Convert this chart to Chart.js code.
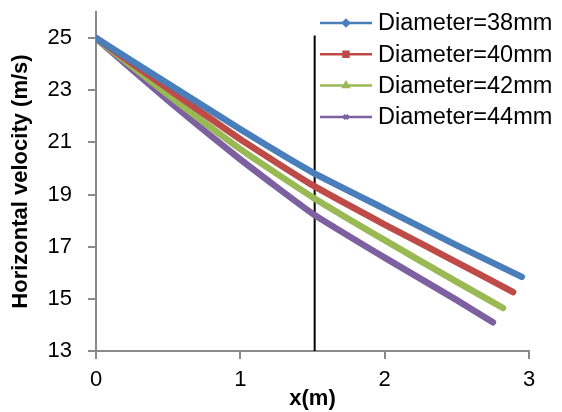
<!DOCTYPE html>
<html>
<head>
<meta charset="utf-8">
<script src="https://cdn.jsdelivr.net/npm/chart.js@4"></script>
<style>
  body { margin: 0; background: #fff; }
  #wrap { width: 562px; height: 412px; }
</style>
</head>
<body>
<div id="wrap"><canvas id="myChart"></canvas></div>
<script>
// values
const labels = ['Diameter=38mm', 'Diameter=40mm', 'Diameter=42mm', 'Diameter=44mm'];
const x_38 = [0, 0.5, 1, 1.5, 2, 2.5, 2.95];
const v_38 = [25, 23.25, 21.5, 19.85, 18.45, 17.05, 15.84];
const x_40 = [0, 0.5, 1, 1.5, 2, 2.5, 2.89];
const v_40 = [25, 23.05, 21.12, 19.36, 17.85, 16.4, 15.26];
const x_42 = [0, 0.5, 1, 1.5, 2, 2.5, 2.82];
const v_42 = [25, 22.82, 20.74, 18.9, 17.25, 15.65, 14.65];
const x_44 = [0, 0.5, 1, 1.5, 2, 2.5, 2.75];
const v_44 = [25, 22.6, 20.35, 18.27, 16.58, 14.95, 14.1];
const marker_x = [1.515, 1.515];
const marker_y = [13, 25.1];
const y_ticks = [13, 15, 17, 19, 21, 23, 25];
const x_ticks = [0, 1, 2, 3];

const colors = ['#4a7ebb', '#be4b48', '#98b954', '#7d60a0'];
const point_styles = ['rectRot', 'rect', 'triangle', 'crossRot'];

const toPoints = (xs, ys) => xs.map((x, i) => ({ x: x, y: ys[i] }));

const series = [toPoints(x_38, v_38), toPoints(x_40, v_40), toPoints(x_42, v_42), toPoints(x_44, v_44)];

const datasets = series.map(function(pts, i) {
    return {
        label: labels[i],
        data: pts,
        showLine: true,
        borderColor: colors[i],
        backgroundColor: colors[i],
        borderWidth: 6.5,
        pointRadius: 0,
        tension: 0.15,
        borderCapStyle: 'round'
    };
});
datasets.push({
    label: 'marker',
    data: toPoints(marker_x, marker_y),
    showLine: true,
    borderColor: '#000',
    borderWidth: 2,
    pointRadius: 0
});

// legend drawn over the plot area, like the original
const overlayLegend = {
    id: 'overlayLegend',
    afterDraw(chart) {
        const ctx = chart.ctx;
        ctx.save();
        labels.forEach(function(label, i) {
            const y = 23 + i * 31.3;
            ctx.strokeStyle = colors[i];
            ctx.lineWidth = 2.5;
            ctx.beginPath();
            ctx.moveTo(320, y);
            ctx.lineTo(372, y);
            ctx.stroke();
            ctx.fillStyle = colors[i];
            ctx.strokeStyle = colors[i];
            Chart.helpers.drawPoint(ctx, {
                pointStyle: point_styles[i],
                radius: i == 1 ? 3.5 : 3,
                rotation: 0,
                borderWidth: 1.5
            }, 346, y);
            ctx.fillStyle = '#000';
            ctx.font = '23.5px "Liberation Sans"';
            ctx.textBaseline = 'middle';
            ctx.textAlign = 'left';
            ctx.fillText(label, 378, y + 1);
        });
        ctx.restore();
    }
};

const axisGray = '#8a8a8a';

var ctx = document.getElementById('myChart').getContext('2d');
var chart = new Chart(ctx, {
    type: 'scatter',
    data: { datasets: datasets },
    plugins: [overlayLegend],
    options: {
        responsive: true,
        maintainAspectRatio: false,
        animation: false,
        layout: { autoPadding: false, padding: { left: 0, right: 33, top: 12, bottom: 0 } },
        plugins: {
            legend: { display: false },
            tooltip: { enabled: false }
        },
        scales: {
            x: {
                type: 'linear',
                min: 0,
                max: 3,
                afterBuildTicks: function(scale) {
                    scale.ticks = x_ticks.map(v => ({ value: v }));
                },
                afterFit: function(scale) {
                    scale.height = 61;
                    scale.paddingLeft = 0;
                    scale.paddingRight = 0;
                },
                grid: { drawOnChartArea: false, drawTicks: true, tickLength: 8, color: axisGray, lineWidth: 2 },
                border: { color: axisGray, width: 2 },
                ticks: { color: '#000', padding: 8, font: { family: 'Liberation Sans', size: 22 } },
                title: {
                    display: true,
                    text: 'x(m)',
                    color: '#000',
                    padding: { top: 0, bottom: 0 },
                    font: { family: 'Liberation Sans', size: 22, weight: 'bold' }
                }
            },
            y: {
                type: 'linear',
                min: 13,
                max: 26,
                afterBuildTicks: function(scale) {
                    scale.ticks = y_ticks.map(v => ({ value: v }));
                },
                afterFit: function(scale) {
                    scale.width = 96;
                    scale.paddingTop = 0;
                    scale.paddingBottom = 0;
                },
                grid: { drawOnChartArea: false, drawTicks: true, tickLength: 8, color: axisGray, lineWidth: 2 },
                border: { color: axisGray, width: 2 },
                ticks: { color: '#000', padding: 16, font: { family: 'Liberation Sans', size: 22 } },
                title: {
                    display: true,
                    text: 'Horizontal velocity (m/s)',
                    color: '#000',
                    padding: { top: 8, bottom: 0 },
                    font: { family: 'Liberation Sans', size: 22, weight: 'bold' }
                }
            }
        }
    }
});
</script>
</body>
</html>
